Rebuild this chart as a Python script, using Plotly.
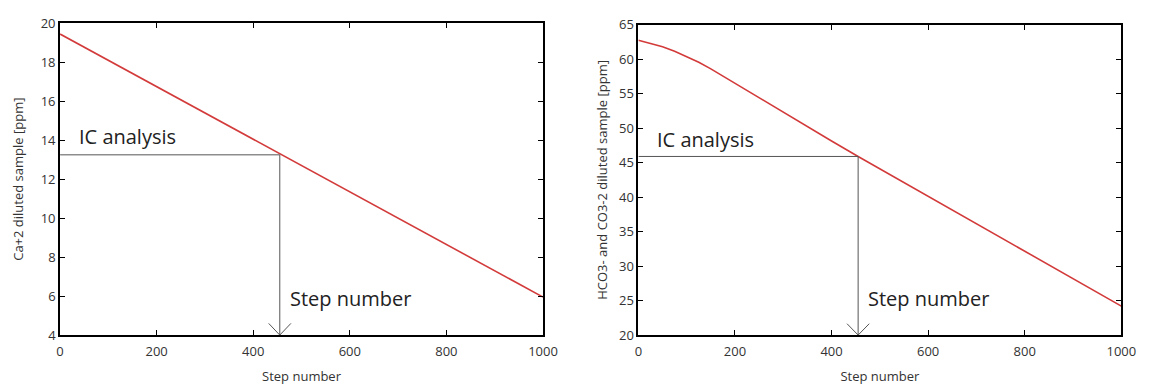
import plotly.graph_objects as go
from plotly.subplots import make_subplots

# ---- data ----
steps_ca = [0, 1000]
ca_ppm = [19.45, 5.95]

steps_hco3 = [0, 25, 50, 75, 100, 125, 150, 175, 200, 300, 400, 455, 500, 600, 700, 800, 900, 1000]
hco3_ppm = [62.75, 62.3, 61.8, 61.15, 60.4, 59.55, 58.6, 57.55, 56.45, 52.35, 48.15, 45.9, 44.1, 40.1, 36.1, 32.1, 28.1, 24.2]

ic_step = 455
ic_ca = 13.25
ic_hco3 = 45.9

x_ticks = [0, 200, 400, 600, 800, 1000]
ca_ticks = [4, 6, 8, 10, 12, 14, 16, 18, 20]
hco3_ticks = [20, 25, 30, 35, 40, 45, 50, 55, 60, 65]

ca_range = [4, 20]
hco3_range = [20, 65]

W, H = 1156, 387
RED = "#d33b3b"
GUIDE = "#555555"
FONT = "Open Sans, Lato, sans-serif"

fig = make_subplots(rows=1, cols=2)

fig.add_trace(go.Scatter(x=steps_ca, y=ca_ppm, mode="lines",
                         line=dict(color=RED, width=1.6), showlegend=False), 1, 1)
fig.add_trace(go.Scatter(x=steps_hco3, y=hco3_ppm, mode="lines",
                         line=dict(color=RED, width=1.6), showlegend=False), 1, 2)


def guide(col, yval, ylo, y_head):
    fig.add_trace(go.Scatter(x=[0, ic_step, ic_step], y=[yval, yval, ylo], mode="lines",
                             line=dict(color=GUIDE, width=1), showlegend=False,
                             hoverinfo="skip"), 1, col)
    dx = 23
    fig.add_trace(go.Scatter(x=[ic_step - dx, ic_step, ic_step + dx],
                             y=[ylo + y_head, ylo, ylo + y_head], mode="lines",
                             line=dict(color=GUIDE, width=1), showlegend=False,
                             hoverinfo="skip"), 1, col)


guide(1, ic_ca, ca_range[0], 0.6)
guide(2, ic_hco3, hco3_range[0], 1.65)

tick_font = dict(family=FONT, size=13, color="#333")
axis_common = dict(showline=True, linecolor="black", linewidth=1.8, mirror="ticks",
                   ticks="inside", ticklen=5, tickcolor="black", showgrid=False,
                   zeroline=False, tickfont=tick_font)

fig.update_xaxes(range=[0, 1000], tickvals=x_ticks, ticklabelstandoff=3, **axis_common,
                 title=dict(text="Step number", font=tick_font, standoff=13))
fig.update_yaxes(**axis_common)
fig.update_yaxes(range=ca_range, tickvals=ca_ticks, row=1, col=1,
                 title=dict(text="Ca+2 diluted sample [ppm]", font=tick_font, standoff=14))
fig.update_yaxes(range=hco3_range, tickvals=hco3_ticks, row=1, col=2,
                 title=dict(text="HCO3- and CO3-2 diluted sample [ppm]", font=tick_font,
                            standoff=8))

fig.update_layout(
    xaxis=dict(domain=[57 / W, 548 / W]),
    xaxis2=dict(domain=[645 / W, 1136 / W]),
    yaxis=dict(domain=[1 - 342 / H, 1 - 15 / H]),
    yaxis2=dict(domain=[1 - 342 / H, 1 - 16.5 / H]),
    width=W, height=H, margin=dict(l=0, r=0, t=0, b=0),
    paper_bgcolor="white", plot_bgcolor="white",
    font=dict(family=FONT, color="#333"),
)

big = dict(family=FONT, size=20, color="#222")
fig.add_annotation(x=0, y=ic_ca, xref="x", yref="y", text="IC analysis", showarrow=False,
                   xanchor="left", yanchor="bottom", xshift=17, yshift=3, font=big)
fig.add_annotation(x=ic_step, y=ic_ca, xref="x", yref="y", text="Step number", showarrow=False,
                   xanchor="left", yanchor="middle", xshift=8, yshift=-144, font=big)
fig.add_annotation(x=0, y=ic_hco3, xref="x2", yref="y2", text="IC analysis", showarrow=False,
                   xanchor="left", yanchor="bottom", xshift=17, yshift=1, font=big)
fig.add_annotation(x=ic_step, y=ic_hco3, xref="x2", yref="y2", text="Step number", showarrow=False,
                   xanchor="left", yanchor="middle", xshift=8, yshift=-142, font=big)

fig.write_html("out.html")
